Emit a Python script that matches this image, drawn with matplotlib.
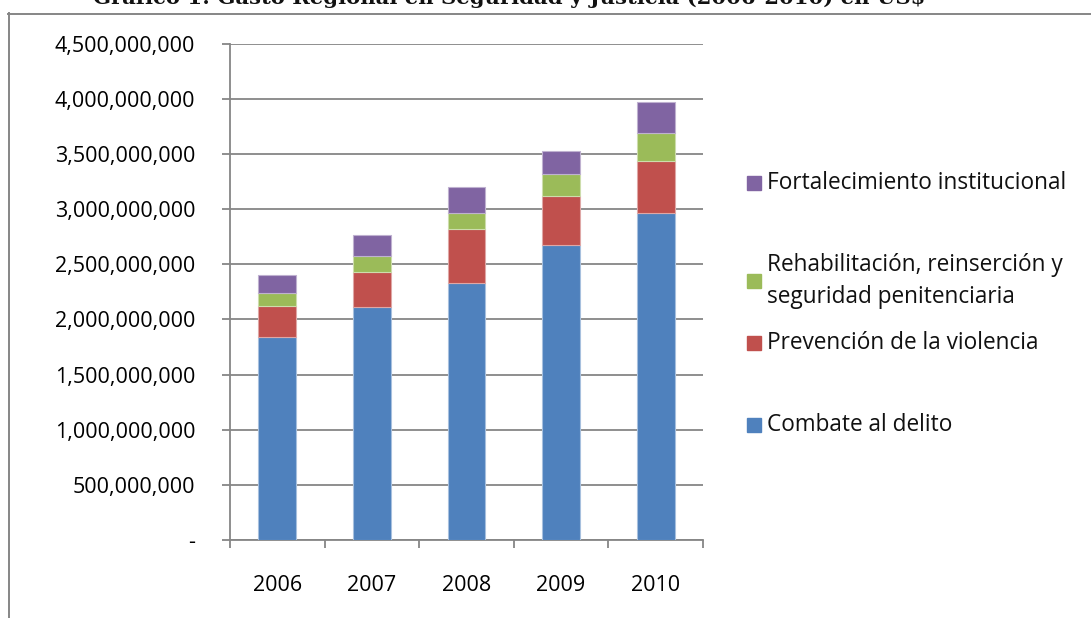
import matplotlib
matplotlib.use("Agg")
import matplotlib.pyplot as plt
from matplotlib.ticker import FuncFormatter, MultipleLocator
from matplotlib.patches import Rectangle
from matplotlib.lines import Line2D
import numpy as np

# Datos (US$)
anios = ["2006", "2007", "2008", "2009", "2010"]
combate = [1.843e9, 2.110e9, 2.330e9, 2.677e9, 2.962e9]
prevencion = [0.279e9, 0.323e9, 0.487e9, 0.445e9, 0.474e9]
rehabilitacion = [0.117e9, 0.139e9, 0.148e9, 0.193e9, 0.251e9]
fortalecimiento = [0.164e9, 0.190e9, 0.238e9, 0.209e9, 0.284e9]

series = [combate, prevencion, rehabilitacion, fortalecimiento]
nombres = ["Combate al delito", "Prevención de la violencia",
           "Rehabilitación, reinserción y\nseguridad penitenciaria",
           "Fortalecimiento institucional"]
colores = ["#4F81BD", "#C0504D", "#9BBB59", "#8064A2"]
bordes = ["#A7C0DE", "#DFA7A6", "#CDDDAC", "#BFB1D0"]

titulo = "Gráfico 1: Gasto Regional en Seguridad y Justicia (2006-2010) en US$"

plt.rcParams["font.family"] = ["Open Sans", "DejaVu Sans"]

W, H = 1091, 618
fig = plt.figure(figsize=(W / 100, H / 100), dpi=100)

def fx(px):
    return px / W

def fy(py):
    return 1 - py / H

gris = "#868686"
fs = 15.5

# marco exterior
fig.add_artist(Line2D([fx(8.5), fx(8.5)], [fy(13), fy(H + 5)], color=gris, lw=1.4,
                      transform=fig.transFigure))
fig.add_artist(Line2D([fx(8), fx(W + 5)], [fy(13.5), fy(13.5)], color=gris, lw=1.4,
                      transform=fig.transFigure))

# titulo (recortado arriba)
fig.text(fx(509), fy(4.5), titulo, ha="center", va="baseline", fontsize=15.2,
         fontweight="bold", family=["DejaVu Serif"], color="#111111")

ax_l, ax_r, ax_t, ax_b = 230, 703, 43.6, 540
ax = fig.add_axes([fx(ax_l), fy(ax_b), fx(ax_r - ax_l), (ax_b - ax_t) / H])

x = np.arange(len(anios))
base = np.zeros(len(anios))
for vals, c, e in zip(series, colores, bordes):
    ax.bar(x, vals, 0.4, bottom=base, color=c, edgecolor=e, linewidth=0.8, zorder=3)
    base += np.array(vals)

ax.set_xlim(-0.5, len(anios) - 0.5)
ax.set_ylim(0, 4.5e9)
ax.yaxis.set_major_locator(MultipleLocator(5e8))
ax.yaxis.set_major_formatter(FuncFormatter(lambda v, p: "-" if v == 0 else f"{v:,.0f}"))
ax.grid(axis="y", color=gris, lw=1.3, zorder=0)

ax.set_xticks(np.arange(-0.5, len(anios)), [""] * (len(anios) + 1))
ax.set_xticks(x, anios, minor=True)
ax.tick_params(axis="x", which="major", length=6, width=1.3, color=gris, direction="out")
ax.tick_params(axis="x", which="minor", length=0, pad=25, labelsize=fs)
ax.tick_params(axis="y", length=6, width=1.3, color=gris, direction="out", pad=19,
               labelsize=fs)

for s in ["top", "right"]:
    ax.spines[s].set_visible(False)
for s in ["left", "bottom"]:
    ax.spines[s].set_color(gris)
    ax.spines[s].set_linewidth(1.3)

# leyenda manual
leg_y = [425, 343, 281, 183]
for nombre, c, yy in zip(nombres, colores, leg_y):
    fig.add_artist(Rectangle((fx(747), fy(yy + 7)), fx(14), 14 / H, color=c,
                             transform=fig.transFigure))
    fig.text(fx(767), fy(yy), nombre, ha="left", va="center", fontsize=16.3,
             linespacing=1.45, color="#111111")

fig.savefig("out.png", dpi=100)
